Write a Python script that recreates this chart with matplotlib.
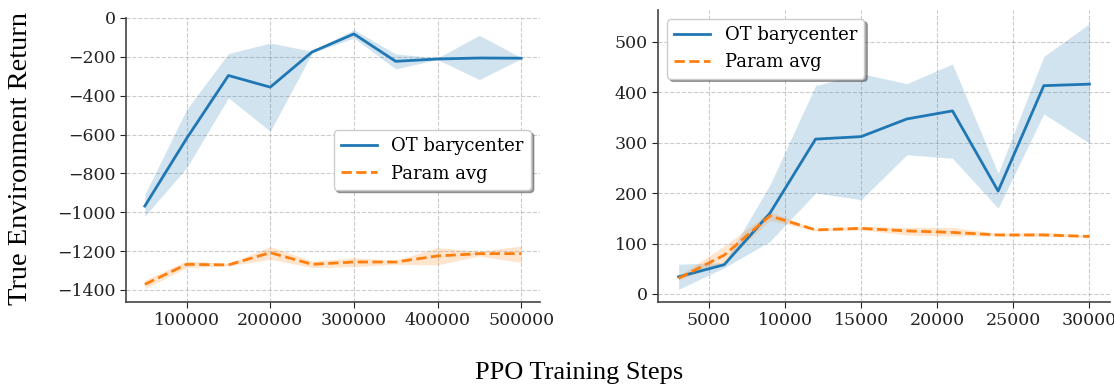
import numpy as np
from matplotlib import pyplot as plt

plt.rcParams['font.family'] = 'DejaVu Serif'
plt.rcParams['font.size'] = 12.5

# lijevi graf
steps_a = [50000, 100000, 150000, 200000, 250000, 300000, 350000, 400000, 450000, 500000]
ot_a = [-968, -620, -296, -356, -175, -82, -223, -211, -206, -207]
ot_a_hi = [-908, -471, -183, -129, -171, -60, -185, -206, -89, -204]
ot_a_lo = [-1020, -771, -411, -583, -180, -103, -262, -214, -317, -210]
pa_a = [-1371, -1268, -1271, -1208, -1268, -1256, -1256, -1225, -1213, -1213]
pa_a_hi = [-1349, -1251, -1263, -1177, -1251, -1234, -1248, -1182, -1200, -1174]
pa_a_lo = [-1393, -1285, -1276, -1242, -1285, -1280, -1268, -1271, -1225, -1259]

# desni graf
steps_b = [3000, 6000, 9000, 12000, 15000, 18000, 21000, 24000, 27000, 30000]
ot_b = [34, 58, 160, 307, 312, 347, 363, 204, 413, 416]
ot_b_hi = [59, 62, 216, 413, 437, 417, 456, 239, 471, 536]
ot_b_lo = [9, 52, 104, 200, 187, 276, 269, 170, 357, 299]
pa_b = [31, 77, 155, 127, 130, 125, 122, 117, 117, 114]
pa_b_hi = [36, 95, 163, 129, 134, 132, 132, 120, 122, 116]
pa_b_lo = [28, 61, 146, 125, 127, 117, 115, 115, 114, 112]

fig = plt.figure(figsize=(11.14, 3.87), dpi=100)
ax1 = fig.add_axes([0.1131, 0.2196, 0.3716, 0.7339])
ax2 = fig.add_axes([0.5907, 0.2196, 0.4057, 0.7545])


def draw(ax, x, ot, ot_hi, ot_lo, pa, pa_hi, pa_lo):
    ax.fill_between(x, ot_lo, ot_hi, color='tab:blue', alpha=0.2, linewidth=0)
    ax.fill_between(x, pa_lo, pa_hi, color='tab:orange', alpha=0.2, linewidth=0)
    ax.plot(x, ot, color='tab:blue', lw=2, label='OT barycenter')
    ax.plot(x, pa, color='tab:orange', lw=2, ls='--', label='Param avg')
    ax.grid(True, ls='--', color='gray', alpha=0.4, lw=0.8)
    ax.set_axisbelow(True)
    for s in ['top', 'right']:
        ax.spines[s].set_visible(False)
    for s in ['left', 'bottom']:
        ax.spines[s].set_color('#444444')
        ax.spines[s].set_linewidth(1.2)
    ax.tick_params(colors='#222222', length=4)


draw(ax1, steps_a, ot_a, ot_a_hi, ot_a_lo, pa_a, pa_a_hi, pa_a_lo)
draw(ax2, steps_b, ot_b, ot_b_hi, ot_b_lo, pa_b, pa_b_hi, pa_b_lo)

ax1.set_xlim(27500, 522500)
ax1.set_ylim(-1462, -2)
ax1.set_xticks([100000, 200000, 300000, 400000, 500000])
ax1.set_yticks(np.arange(-1400, 1, 200))
ax2.set_xlim(1650, 31350)
ax2.set_ylim(-16, 563)
ax2.set_xticks([5000, 10000, 15000, 20000, 25000, 30000])
ax2.set_yticks(np.arange(0, 501, 100))

ax1.legend(loc='center right', bbox_to_anchor=(1.0, 0.5), shadow=True,
           framealpha=1, edgecolor='#cccccc', fontsize=13)
ax2.legend(loc='upper left', bbox_to_anchor=(0.0, 1.0), shadow=True,
           framealpha=1, edgecolor='#cccccc', fontsize=13)

fig.text(0.018, 0.59, 'True Environment Return', rotation=90, ha='center', va='center',
         fontsize=20.5, family='Liberation Serif')
fig.text(0.52, 0.035, 'PPO Training Steps', ha='center', va='center',
         fontsize=19, family='Liberation Serif')

plt.savefig('out.png', dpi=100)
